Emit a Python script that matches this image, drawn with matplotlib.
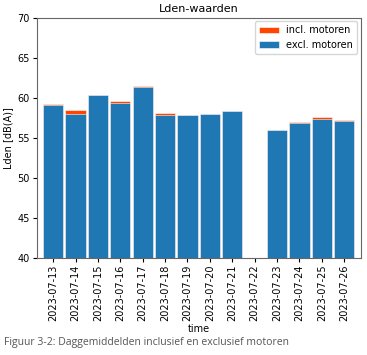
import numpy as np
import matplotlib.pyplot as plt

# --- Data ---
dates = ["2023-07-13", "2023-07-14", "2023-07-15", "2023-07-16", "2023-07-17",
         "2023-07-18", "2023-07-19", "2023-07-20", "2023-07-21", "2023-07-22",
         "2023-07-23", "2023-07-24", "2023-07-25", "2023-07-26"]
incl = [59.25, 58.45, 60.3, 59.55, 61.45, 58.05, 57.8, 57.9, 58.3, np.nan,
        56.0, 56.95, 57.55, 57.25]
excl = [59.05, 58.0, 60.3, 59.35, 61.3, 57.8, 57.8, 57.9, 58.3, np.nan,
        56.0, 56.8, 57.35, 57.1]

plt.rcParams['font.size'] = 7
fig = plt.figure(figsize=(3.67, 3.55), dpi=100)
ax = fig.add_axes([37 / 367, 1 - 257.6 / 355, 324 / 367, 240 / 355])

x = np.arange(len(dates))
ax.bar(x, incl, width=0.9, color="orangered", edgecolor="white", linewidth=0.4,
       label="incl. motoren")
ax.bar(x, excl, width=0.9, color="#1f77b4", edgecolor="white", linewidth=0.4,
       label="excl. motoren")

ax.set_ylim(40, 70)
ax.set_xlim(-0.72, 13.75)
ax.set_xticks(x)
ax.set_xticklabels(dates, rotation=90)
ax.set_ylabel("Lden [dB(A)]", labelpad=3)
ax.set_xlabel("time", labelpad=2)
ax.set_title("Lden-waarden", fontsize=8, pad=4)
ax.tick_params(length=3, pad=2)
for s in ax.spines.values():
    s.set_color("#666666")
ax.legend(loc="upper right", fontsize=7, borderaxespad=0.4)

# caption below the chart
fig.text(4 / 367, 1 - 342 / 355, "Figuur 3-2: Daggemiddelden inclusief en exclusief motoren",
         fontsize=7.5, color="#555555", family="Open Sans", va="center")

fig.savefig("out.png", dpi=100)
